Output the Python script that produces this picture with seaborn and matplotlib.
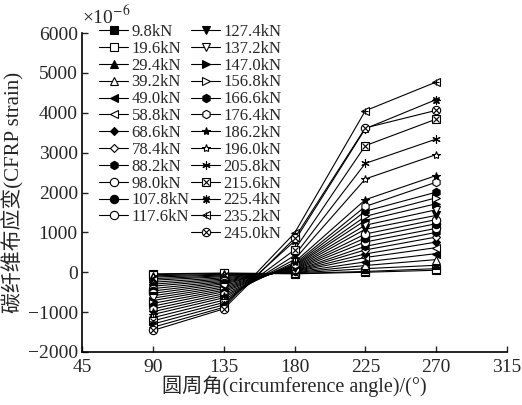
import matplotlib
matplotlib.use("Agg")
import matplotlib.pyplot as plt
import seaborn as sns
from matplotlib.lines import Line2D

# Données (µε)
angles = [90, 135, 180, 225, 270]
loads = ["9.8kN", "19.6kN", "29.4kN", "39.2kN", "49.0kN", "58.8kN", "68.6kN",
         "78.4kN", "88.2kN", "98.0kN", "107.8kN", "117.6kN", "127.4kN",
         "137.2kN", "147.0kN", "156.8kN", "166.6kN", "176.4kN", "186.2kN",
         "196.0kN", "205.8kN", "215.6kN", "225.4kN", "235.2kN", "245.0kN"]

strain_90 = [-40, -60, -90, -120, -160, -200, -250, -300, -350, -410, -470,
             -530, -590, -650, -710, -780, -850, -920, -990, -1060, -1140,
             -1220, -1300, -1380, -1460]
strain_135 = [-20, -30, -50, -70, -90, -110, -140, -170, -200, -230, -260,
              -290, -330, -370, -410, -450, -490, -540, -590, -640, -700,
              -760, -820, -880, -920]
strain_180 = [-40, -30, -20, -10, 0, 10, 20, 30, 40, 55, 70, 85, 100, 120,
              140, 160, 180, 210, 250, 320, 420, 560, 780, 980, 850]
strain_225 = [0, 20, 90, 170, 260, 370, 460, 560, 650, 760, 860, 960, 1080,
              1180, 1300, 1400, 1530, 1650, 1820, 2340, 2730, 3175, 3600,
              4050, 3620]
strain_270 = [50, 90, 175, 317, 467, 617, 758, 883, 1000, 1100, 1217, 1320,
              1425, 1567, 1717, 1867, 2008, 2258, 2425, 2950, 3340, 3840,
              4330, 4770, 4060]

# (marqueur, plein, marqueur superposé)
styles = [("s", True, None), ("s", False, None), ("^", True, None),
          ("^", False, None), ("<", True, None), ("<", False, None),
          ("D", True, None), ("D", False, None), ("h", True, None),
          ("o", False, None), ("o", True, None), ("o", False, None),
          ("v", True, None), ("v", False, None), (">", True, None),
          (">", False, None), ("h", True, None), ("h", False, None),
          ("*", True, None), ("*", False, None), ((6, 2, 0), True, None),
          ("s", False, "x"), ((8, 2, 0), True, "*"), ("<", False, "+"),
          ("o", False, "x")]

sns.set_theme(style="ticks")
plt.rcParams["font.family"] = ["Liberation Serif", "Noto Sans CJK SC"]
plt.rcParams["mathtext.fontset"] = "stix"

fig, ax = plt.subplots(figsize=(5.22, 4.05), dpi=100)
fig.subplots_adjust(left=82 / 522, right=507 / 522, top=1 - 33 / 405,
                    bottom=1 - 352 / 405)

handles = []
for i, name in enumerate(loads):
    vals = [strain_90[i], strain_135[i], strain_180[i], strain_225[i],
            strain_270[i]]
    m, filled, extra = styles[i]
    ms = 4.5 if m == "D" else 6
    sns.lineplot(x=angles, y=vals, ax=ax, color="black", lw=0.8, marker=m,
                 ms=ms, mfc="black" if filled else "white", mec="black",
                 mew=0.8, legend=False)
    h = ax.lines[-1]
    if extra:
        sns.lineplot(x=angles, y=vals, ax=ax, color="black", lw=0,
                     marker=extra, ms=5, mec="black", mew=0.8, legend=False)
        h = (h, ax.lines[-1])
    handles.append(h)

labels = list(loads)
handles.insert(12, Line2D([], [], linestyle="none"))
labels.insert(12, "")

ax.legend(handles, labels, ncol=2, loc="upper left",
          bbox_to_anchor=(99 / 522, 1 - 24 / 405),
          bbox_transform=fig.transFigure, frameon=False, fontsize=12,
          handlelength=1.75, handletextpad=0.2, columnspacing=0.1,
          labelspacing=0.05, borderpad=0, borderaxespad=0)

ax.set_xlim(45, 315)
ax.set_ylim(-2000, 6000)
ax.set_xticks([45, 90, 135, 180, 225, 270, 315])
ax.set_yticks(range(-2000, 6001, 1000))
ax.tick_params(direction="in", length=4, width=1, labelsize=14)
ax.tick_params(axis="x", pad=5)
ax.tick_params(axis="y", pad=3)
sns.despine(ax=ax)
for s in ["left", "bottom"]:
    ax.spines[s].set_linewidth(1.2)
    ax.spines[s].set_color("black")

ax.set_xlabel("圆周角(circumference angle)/(°)", fontsize=14.5, labelpad=0)
ax.set_ylabel("碳纤维布应变(CFRP strain)", fontsize=15, labelpad=2)
fig.text(82 / 522, 1 - 16 / 405, r"×10$^{-6}$", fontsize=14, va="center")

fig.savefig("out.png", dpi=100)
